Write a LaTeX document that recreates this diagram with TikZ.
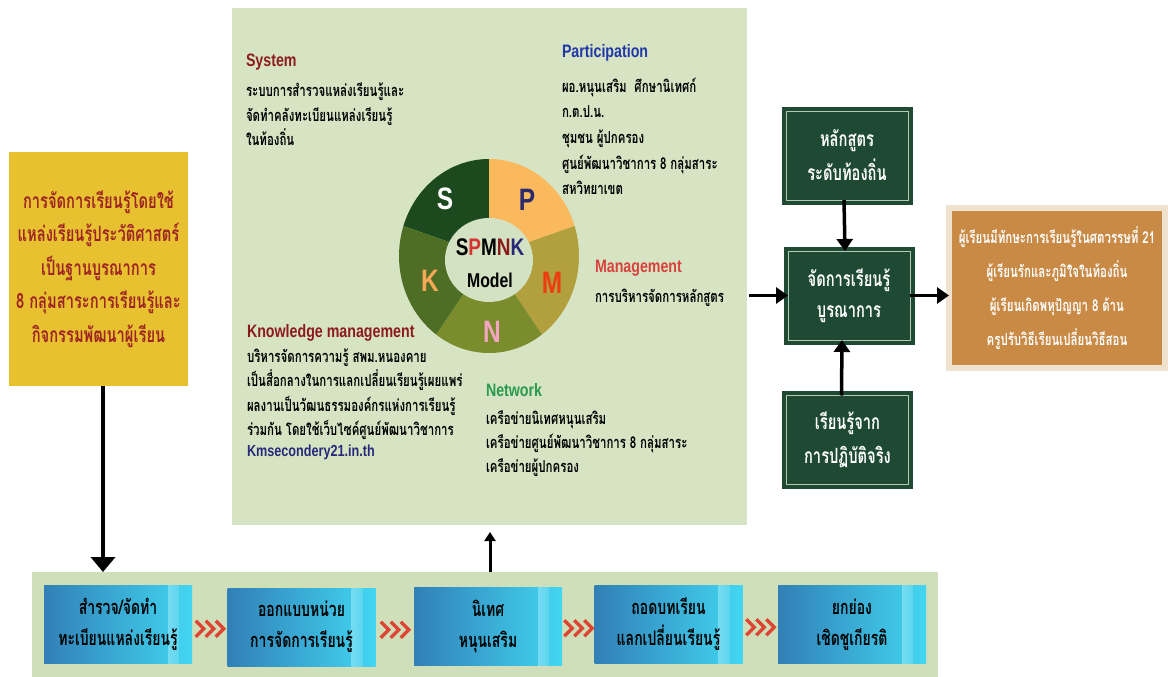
\documentclass[tikz,border=0pt]{standalone}
\usepackage{fontspec}
\setmainfont[Script=Thai]{Loma}
\newfontfamily\thaif[Script=Thai,FakeStretch=0.7]{Loma}
\newfontfamily\latf[FakeStretch=0.79]{Liberation Sans}
\usetikzlibrary{arrows.meta,calc}
\definecolor{panelc}{HTML}{D6E4C4}
\definecolor{bandc}{HTML}{CFDFB9}
\definecolor{yelc}{HTML}{E7C12F}
\definecolor{yeltxt}{HTML}{9E2424}
\definecolor{chalkc}{HTML}{1E4A34}
\definecolor{chalkl}{HTML}{B4C8B8}
\definecolor{corkc}{HTML}{C88A45}
\definecolor{framec}{HTML}{EFE2CF}
\definecolor{blL}{HTML}{3180B6}
\definecolor{blR}{HTML}{42D6F2}
\definecolor{chevc}{HTML}{DD4433}
\definecolor{sysc}{HTML}{8C1C1C}
\definecolor{parc}{HTML}{2038A8}
\definecolor{manc}{HTML}{D9413C}
\definecolor{netc}{HTML}{2A9B4E}
\definecolor{urlc}{HTML}{262A78}
\definecolor{segS}{HTML}{1C4A1E}
\definecolor{segP}{HTML}{FBB95E}
\definecolor{segM}{HTML}{B2A03E}
\definecolor{segN}{HTML}{7B8C2D}
\definecolor{segK}{HTML}{4E6E26}
\definecolor{innerc}{HTML}{D3E2C2}
\definecolor{letP}{HTML}{2B2B6B}
\definecolor{letM}{HTML}{EE3C12}
\definecolor{letN}{HTML}{F2A6BF}
\definecolor{letK}{HTML}{F5A855}
\definecolor{spP}{HTML}{D63333}
\begin{document}
\begin{tikzpicture}[x=1pt,y=-1pt,
  every node/.style={inner sep=0pt,outer sep=0pt},
  headtxt/.style={anchor=west,font=\latf\bfseries\fontsize{18}{20}\selectfont},
  bodytxt/.style={anchor=west,align=left,font=\thaif\bfseries\fontsize{16.4}{24.5}\selectfont},
  chalkbox/.style={fill=chalkc,draw=chalkc,double=chalkl,double distance=1pt,line width=4pt,
     minimum width=122,minimum height=89,text=white,align=center,
     font=\thaif\bfseries\fontsize{21}{34}\selectfont},
  bluebox/.style={left color=blL,right color=blR,minimum width=148,minimum height=78,
     align=center,font=\thaif\bfseries\fontsize{20}{31}\selectfont,
     path picture={\shade[left color=blR!84!blL,right color=blR!91!blL,middle color=white!85!blR]
        ([xshift=-24pt]path picture bounding box.north east) rectangle
        ([xshift=-13pt]path picture bounding box.south east);}},
  bigarrow/.style={line width=4.5pt,-{Triangle[length=15pt,width=24pt]}},
  midarrow/.style={line width=3.5pt,-{Triangle[length=12pt,width=16pt]}},
  donutletter/.style={font=\latf\bfseries\fontsize{31}{32}\selectfont}
]
\fill[white] (0,0) rectangle (1168,677);
\useasboundingbox (0,0) rectangle (1168,677);

% panels
\node[fill=panelc,minimum width=515,minimum height=517] (panel) at (489.5,266.5) {};
\node[fill=bandc,minimum width=906,minimum height=105] (band) at (485,624.5) {};

% yellow box
\node[fill=yelc,minimum width=179,minimum height=234,align=center,text=yeltxt,
  font=\thaif\bfseries\fontsize{21}{33.5}\selectfont] (yb) at (98.5,269)
  {การจัดการเรียนรู้โดยใช้\\แหล่งเรียนรู้ประวัติศาสตร์\\เป็นฐานบูรณาการ\\8 กลุ่มสาระการเรียนรู้และ\\กิจกรรมพัฒนาผู้เรียน};

% donut
\coordinate (dc) at (489,256);
\fill[segS] (dc) -- plot[domain=90:162,samples=40] ({489+90*cos(\x)},{256-97*sin(\x)}) -- cycle;
\fill[segP] (dc) -- plot[domain=18:90,samples=40] ({489+90*cos(\x)},{256-97*sin(\x)}) -- cycle;
\fill[segM] (dc) -- plot[domain=-54:18,samples=40] ({489+90*cos(\x)},{256-97*sin(\x)}) -- cycle;
\fill[segN] (dc) -- plot[domain=-126:-54,samples=40] ({489+90*cos(\x)},{256-97*sin(\x)}) -- cycle;
\fill[segK] (dc) -- plot[domain=162:234,samples=40] ({489+90*cos(\x)},{256-97*sin(\x)}) -- cycle;
\fill[innerc] (489,260) ellipse [x radius=44pt,y radius=42pt];
\node[donutletter,text=white] (lS) at (445,199) {S};
\node[donutletter,text=letP] (lP) at (527,200) {P};
\node[donutletter,text=letM] (lM) at (552,283) {M};
\node[donutletter,text=letN] (lN) at (492,332) {N};
\node[donutletter,text=letK] (lK) at (430,281) {K};
\node[font=\latf\bfseries\fontsize{24}{25}\selectfont] (spmnk) at (490,247)
  {S\textcolor{spP}{P}M\textcolor{sysc}{N}\textcolor{urlc}{K}};
\node[font=\latf\bfseries\fontsize{20}{21}\selectfont] (model) at (490,280) {Model};

% panel texts
\node[headtxt,text=sysc] (sysh) at (246,62) {System};
\node[bodytxt] (sysb) at (246,114.5) {ระบบการสำรวจแหล่งเรียนรู้และ\\จัดทำคลังทะเบียนแหล่งเรียนรู้\\ในท้องถิ่น};
\node[headtxt,text=parc] (parh) at (562,53) {Participation};
\node[bodytxt,font=\thaif\bfseries\fontsize{16.4}{25.7}\selectfont] (parb) at (562,136.4)
  {ผอ.หนุนเสริม\ \ ศึกษานิเทศก์\\ก.ต.ป.น.\\ชุมชน ผู้ปกครอง\\ศูนย์พัฒนาวิชาการ 8 กลุ่มสาระ\\สหวิทยาเขต};
\node[headtxt,text=manc] (manh) at (595,268) {Management};
\node[bodytxt] (manb) at (595,298) {การบริหารจัดการหลักสูตร};
\node[headtxt,text=sysc] (kmh) at (247,333) {Knowledge management};
\node[bodytxt] (kmb) at (247,394)
  {บริหารจัดการความรู้ สพม.หนองคาย\\เป็นสื่อกลางในการแลกเปลี่ยนเรียนรู้เผยแพร่\\ผลงานเป็นวัฒนธรรมองค์กรแห่งการเรียนรู้\\ร่วมกัน โดยใช้เว็บไซค์ศูนย์พัฒนาวิชาการ};
\node[anchor=west,text=urlc,font=\latf\bfseries\fontsize{16}{17}\selectfont] (kmu) at (247,452) {Kmsecondery21.in.th};
\node[headtxt,text=netc] (neth) at (486,390) {Network};
\node[bodytxt,font=\thaif\bfseries\fontsize{16.4}{24}\selectfont] (netb) at (486,444)
  {เครือข่ายนิเทศหนุนเสริม\\เครือข่ายศูนย์พัฒนาวิชาการ 8 กลุ่มสาระ\\เครือข่ายผู้ปกครอง};

% right side
\node[chalkbox] (ctop) at (847,155.5) {หลักสูตร\\ระดับท้องถิ่น};
\node[chalkbox,font=\thaif\bfseries\fontsize{21}{31}\selectfont] (cmid) at (849,295.5) {จัดการเรียนรู้\\บูรณาการ};
\node[chalkbox] (cbot) at (847.5,440) {เรียนรู้จาก\\การปฏิบัติจริง};
\node[fill=corkc,draw=framec,line width=6pt,minimum width=216,minimum height=160,
  text=white,align=center,font=\thaif\bfseries\fontsize{16.4}{34}\selectfont] (cork) at (1057,288)
  {ผู้เรียนมีทักษะการเรียนรู้ในศตวรรษที่ 21\\ผู้เรียนรักและภูมิใจในท้องถิ่น\\ผู้เรียนเกิดพหุปัญญา 8 ด้าน\\ครูปรับวิธีเรียนเปลี่ยนวิธีสอน};

% bottom boxes
\node[bluebox] (b1) at (118,624.5) {สำรวจ/จัดทำ\\ทะเบียนแหล่งเรียนรู้};
\node[bluebox] (b2) at (301.5,627) {ออกแบบหน่วย\\การจัดการเรียนรู้};
\node[bluebox] (b3) at (488,626.5) {นิเทศ\\หนุนเสริม};
\node[bluebox] (b4) at (668.5,624) {ถอดบทเรียน\\แลกเปลี่ยนเรียนรู้};
\node[bluebox] (b5) at (852,624.5) {ยกย่อง\\เชิดชูเกียรติ};

% chevrons
\foreach \a/\b in {b1/b2,b2/b3,b3/b4,b4/b5}{
  \coordinate (m-\a) at ($(\a.east)!0.5!(\b.west)+(0,3)$);
  \foreach \i in {-10,0,10}{
    \draw[chevc,line width=3.5pt,miter limit=10] ($(m-\a)+(\i-4,-8)$) -- ($(m-\a)+(\i+4,0)$) -- ($(m-\a)+(\i-4,8)$);
  }
}

% connectors
\draw[bigarrow] ([xshift=4.5pt]yb.south) -- ([xshift=4.5pt]yb.south |- band.north);
\draw[line width=3pt,-{Triangle[length=9pt,width=11pt]},shorten >=7pt] ([xshift=2pt]b3.north |- band.north) -- ([xshift=2pt]b3.north |- panel.south);
\draw[midarrow,shorten <=2pt] (cmid.west -| panel.east) -- (cmid.west);
\draw[midarrow] ([xshift=-3pt]ctop.south) -- ([xshift=-4pt]cmid.north);
\draw[midarrow] ([xshift=-6pt]cbot.north) -- ([xshift=-7pt]cmid.south);
\draw[midarrow] (cmid.east) -- (cmid.east -| cork.west);
\end{tikzpicture}
\end{document}
